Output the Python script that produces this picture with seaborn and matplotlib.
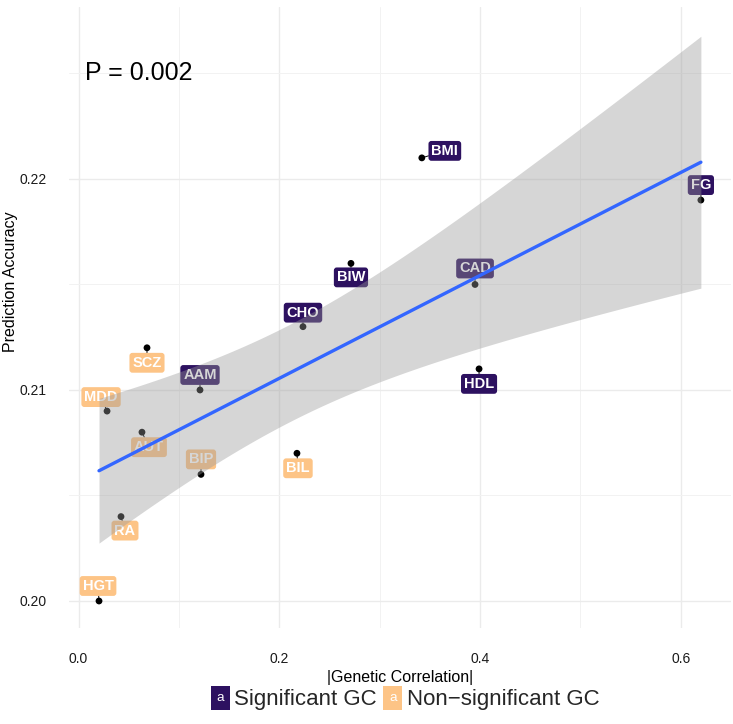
import numpy as np
import pandas as pd
import seaborn as sns
import matplotlib
matplotlib.use("Agg")
import matplotlib.pyplot as plt
from matplotlib.ticker import MultipleLocator, FixedLocator
from matplotlib.patches import Rectangle, Patch
from matplotlib.text import Text
from matplotlib.legend_handler import HandlerBase

# ---------------- data ----------------
traits = ['HGT', 'RA', 'MDD', 'AUT', 'SCZ', 'BIP', 'AAM', 'BIL',
          'CHO', 'BIW', 'BMI', 'CAD', 'HDL', 'FG']
gen_corr = [0.0204, 0.0423, 0.0284, 0.0632, 0.0682, 0.122, 0.121, 0.2176,
            0.2236, 0.2714, 0.342, 0.395, 0.399, 0.620]
pred_acc = [0.200, 0.204, 0.209, 0.208, 0.212, 0.206, 0.210, 0.207,
            0.213, 0.216, 0.221, 0.215, 0.211, 0.219]
significance = ['Non-significant GC'] * 6 + ['Significant GC', 'Non-significant GC'] + ['Significant GC'] * 6
x_ticks = [0.0, 0.2, 0.4, 0.6]
y_ticks = [0.20, 0.21, 0.22]
p_text = 'P = 0.002'

df = pd.DataFrame({'trait': traits, 'gc': gen_corr, 'acc': pred_acc, 'sig': significance})

# ---------------- style ----------------
sns.set_style('white')
plt.rcParams['font.family'] = ['Liberation Sans', 'DejaVu Sans']

palette = {'Significant GC': '#2D1160', 'Non-significant GC': '#FDC486'}

W, H = 733, 724
fig = plt.figure(figsize=(W / 100, H / 100), dpi=100)
L, R, T, B = 69, 731, 7, 628
ax = fig.add_axes([L / W, 1 - B / H, (R - L) / W, (B - T) / H])

# points
sns.scatterplot(data=df, x='gc', y='acc', color='black', s=24, edgecolor='none',
                ax=ax, zorder=3, legend=False)

# labels (ggrepel-like), offsets in pixels
offsets = {'HGT': (-1, 15), 'RA': (4, -14), 'MDD': (-6, 14), 'AUT': (7, -15),
           'SCZ': (0, -15), 'BIP': (0, 15), 'AAM': (0, 15), 'BIL': (1, -15),
           'CHO': (0, 14), 'BIW': (0, -14), 'BMI': (23, 7), 'CAD': (0, 16),
           'HDL': (0, -15), 'FG': (0, 15)}
for _, r in df.iterrows():
    dx, dy = offsets[r['trait']]
    ax.annotate(r['trait'], xy=(r['gc'], r['acc']), xytext=(dx, dy),
                textcoords='offset pixels', ha='center', va='center',
                fontsize=10.5, fontweight='bold', color='white', zorder=4,
                bbox=dict(boxstyle='round,pad=0.2,rounding_size=0.2',
                          fc=palette[r['sig']], ec='none'),
                arrowprops=dict(arrowstyle='-', color='black', lw=0.7,
                                shrinkA=0, shrinkB=0))

# regression with analytic 95% CI (like geom_smooth(method='lm'))
x = np.asarray(gen_corr)
y = np.asarray(pred_acc)
n = len(x)
b1, b0 = np.polyfit(x, y, 1)
xs = np.linspace(x.min(), x.max(), 100)
yhat = b0 + b1 * xs
resid = y - (b0 + b1 * x)
s = np.sqrt(np.sum(resid ** 2) / (n - 2))
se = s * np.sqrt(1 / n + (xs - x.mean()) ** 2 / np.sum((x - x.mean()) ** 2))
tq = 2.178813  # t(0.975, df=12)
ax.fill_between(xs, yhat - tq * se, yhat + tq * se, color='#999999', alpha=0.4,
                lw=0, zorder=5)
sns.regplot(data=df, x='gc', y='acc', scatter=False, ci=None, ax=ax,
            line_kws=dict(color='#3366FF', lw=2.4, zorder=6))

# P value
ax.text(0.06, 0.225, p_text, fontsize=18, ha='center', va='center', color='black')

# axes
ax.set_xlim(-0.0095, 0.650)
ax.set_ylim(0.19872, 0.22815)
ax.xaxis.set_major_locator(FixedLocator(x_ticks))
ax.yaxis.set_major_locator(FixedLocator(y_ticks))
ax.xaxis.set_minor_locator(MultipleLocator(0.1))
ax.yaxis.set_minor_locator(MultipleLocator(0.005))
ax.set_xticklabels([f'{v:.1f}' for v in x_ticks])
ax.set_yticklabels([f'{v:.2f}' for v in y_ticks])
ax.grid(which='major', color='#EBEBEB', lw=1.0, zorder=0)
ax.grid(which='minor', color='#F2F2F2', lw=0.7, zorder=0)
ax.set_axisbelow(True)
for sp in ax.spines.values():
    sp.set_visible(False)
ax.tick_params(which='both', length=0, labelsize=10, labelcolor='#1a1a1a')
ax.tick_params(axis='x', pad=17)
ax.tick_params(axis='y', pad=16)
ax.set_xlabel('|Genetic Correlation|', fontsize=11.5, color='black', labelpad=3)
ax.set_ylabel('Prediction Accuracy', fontsize=11.5, color='black')
ax.yaxis.set_label_coords((18 - L) / (R - L), (B - 282) / (B - T))


# legend with "a" keys
class LetterHandler(HandlerBase):
    def __init__(self, color):
        super().__init__()
        self.color = color

    def create_artists(self, legend, orig_handle, xdescent, ydescent, width,
                       height, fontsize, trans):
        rect = Rectangle((-xdescent, -ydescent), width, height, fc=self.color,
                         ec='none', transform=trans)
        txt = Text(-xdescent + width / 2, -ydescent + height / 2, 'a',
                   color='white', ha='center', va='center',
                   fontsize=fontsize * 0.6, transform=trans)
        return [rect, txt]


h1 = Patch(color=palette['Significant GC'], label='Significant GC')
h2 = Patch(color=palette['Non-significant GC'], label='Non\u2212significant GC')
fig.legend(handles=[h1, h2],
           handler_map={h1: LetterHandler(palette['Significant GC']),
                        h2: LetterHandler(palette['Non-significant GC'])},
           loc='center', bbox_to_anchor=(405 / W, 1 - 698 / H), ncol=2,
           frameon=False, fontsize=16, handlelength=0.85, handleheight=1.3,
           handletextpad=0.2, columnspacing=0.3, borderpad=0)

fig.savefig('out.png', dpi=100)
